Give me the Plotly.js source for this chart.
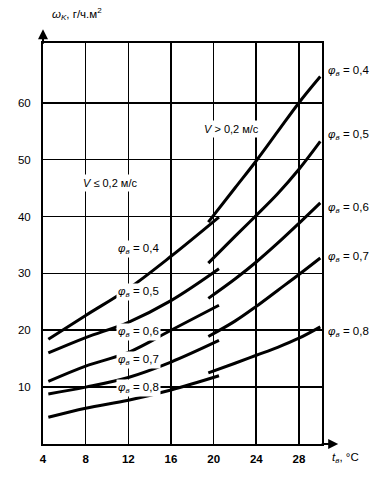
<!DOCTYPE html>
<html><head><meta charset="utf-8">
<script src="https://cdn.plot.ly/plotly-3.0.1.min.js"></script>
<style>html,body{margin:0;padding:0;background:#fff}</style>
</head><body><div id="chart" style="width:383px;height:477px"></div>
<script>
// Categories / labels
const phiNames = ['0,4', '0,5', '0,6', '0,7', '0,8'];
const xTickVals = [4, 8, 12, 16, 20, 24, 28];
const yTickVals = [10, 20, 30, 40, 50, 60];

// V <= 0.2 m/s curves
const lowX = [4.5, 8, 12, 16, 20.5];
const low04 = [18.4, 22.6, 27.3, 33.0, 39.9];
const low05 = [16.0, 18.7, 21.4, 25.2, 30.8];
const low06 = [11.0, 13.7, 16.1, 20.0, 24.4];
const low07 = [8.8, 10.0, 11.7, 14.4, 18.2];
const low08 = [4.7, 6.3, 7.7, 9.5, 12.0];

// V > 0.2 m/s curves
const highX = [19.5, 22, 24, 26, 28, 30];
const high04 = [39.0, 45.0, 49.8, 54.9, 60.0, 64.6];
const high05 = [31.8, 36.5, 40.2, 44.0, 48.3, 53.2];
const high06 = [25.6, 29.0, 32.0, 35.3, 38.8, 42.4];
const high07 = [18.9, 21.6, 24.2, 27.0, 29.8, 32.7];
const high08 = [12.5, 14.2, 15.6, 17.0, 18.6, 20.6];

const lows = [low04, low05, low06, low07, low08];
const highs = [high04, high05, high06, high07, high08];

const FONT = 'Liberation Sans, Arial, sans-serif';
const traces = [];
lows.forEach(ys => traces.push({x: lowX, y: ys, mode: 'lines', line: {color: '#000', width: 3, shape: 'spline'}, hoverinfo: 'skip'}));
highs.forEach(ys => traces.push({x: highX, y: ys, mode: 'lines', line: {color: '#000', width: 3, shape: 'spline'}, hoverinfo: 'skip'}));

const annotations = [];
// left labels (between curves)
const leftLabelY = [34.2, 26.7, 19.7, 14.8, 9.8];
phiNames.forEach((n, i) => annotations.push({
  x: 13.0, y: leftLabelY[i], xref: 'x', yref: 'y', showarrow: false, yanchor: 'middle',
  text: '<i>φ<sub>в</sub></i> = ' + n, font: {family: FONT, size: 11.5, color: '#000'},
  bgcolor: '#fff', borderpad: 1
}));
// right labels (outside plot: paper coordinates)
const rightLabelY = [65.5, 54.4, 41.5, 32.9, 19.7];
phiNames.forEach((n, i) => annotations.push({
  x: 1.016, y: rightLabelY[i] / 70.5, xref: 'paper', yref: 'paper', showarrow: false,
  xanchor: 'left', yanchor: 'middle',
  text: '<i>φ<sub>в</sub></i> = ' + n, font: {family: FONT, size: 11.5, color: '#000'}
}));
annotations.push({x: 10.3, y: 45.9, xref: 'x', yref: 'y', showarrow: false, yanchor: 'middle',
  text: '<i>V</i> ≤ 0,2 м/с', font: {family: FONT, size: 11, color: '#000'}, bgcolor: '#fff', borderpad: 2});
annotations.push({x: 21.7, y: 55.4, xref: 'x', yref: 'y', showarrow: false, yanchor: 'middle',
  text: '<i>V</i> > 0,2 м/с', font: {family: FONT, size: 11, color: '#000'}, bgcolor: '#fff', borderpad: 2});
// axis titles
annotations.push({x: 0.025, y: 1.072, xref: 'paper', yref: 'paper', showarrow: false,
  xanchor: 'left', yanchor: 'middle',
  text: '<i>ω<sub>K</sub></i>, г/ч.м<sup>2</sup>', font: {family: FONT, size: 11.5, color: '#000'}});
annotations.push({x: 1.03, y: -0.034, xref: 'paper', yref: 'paper', showarrow: false,
  xanchor: 'left', yanchor: 'middle',
  text: '<i>t<sub>в</sub></i>, °C', font: {family: FONT, size: 11.5, color: '#000'}});
// axis arrows
annotations.push({x: 0, y: 1.034, xref: 'paper', yref: 'paper', ax: 0, ay: 16, showarrow: true,
  arrowhead: 2, arrowsize: 1, arrowwidth: 2, arrowcolor: '#000', text: ''});
annotations.push({x: 1.058, y: 0, xref: 'paper', yref: 'paper', ax: -18, ay: 0, showarrow: true,
  arrowhead: 2, arrowsize: 1, arrowwidth: 2, arrowcolor: '#000', text: ''});

const layout = {
  width: 383, height: 477,
  margin: {l: 43, r: 61, t: 43, b: 33},
  paper_bgcolor: '#fff', plot_bgcolor: '#fff',
  showlegend: false,
  xaxis: {range: [4, 30.16], tickvals: xTickVals, ticktext: xTickVals.map(String),
    showgrid: true, gridcolor: '#000', gridwidth: 1.6, zeroline: false,
    showline: true, linecolor: '#000', linewidth: 2, mirror: true,
    ticks: 'outside', ticklen: 3, tickcolor: 'rgba(0,0,0,0)',
    tickfont: {family: FONT, size: 11.5, color: '#000', weight: 'bold'}, fixedrange: true},
  yaxis: {range: [0, 70.5], tickvals: yTickVals, ticktext: yTickVals.map(String),
    showgrid: true, gridcolor: '#000', gridwidth: 1.6, zeroline: false,
    showline: true, linecolor: '#000', linewidth: 2, mirror: true,
    ticks: 'outside', ticklen: 8, tickcolor: 'rgba(0,0,0,0)',
    tickfont: {family: FONT, size: 11.5, color: '#000'}, fixedrange: true},
  annotations: annotations
};
Plotly.newPlot('chart', traces, layout, {staticPlot: true, displayModeBar: false});
</script></body></html>
